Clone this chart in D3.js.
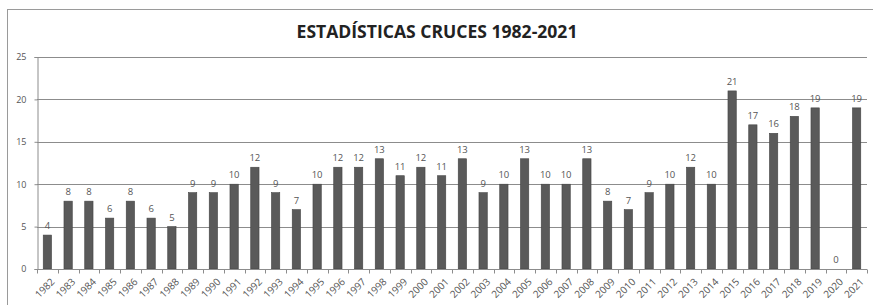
<!DOCTYPE html>
<html><head><meta charset="utf-8">
<script src="https://cdn.jsdelivr.net/npm/d3@7"></script>
<style>body{margin:0;background:#fff}svg{display:block}</style>
</head><body>
<script>
const years = ["1982","1983","1984","1985","1986","1987","1988","1989","1990","1991","1992","1993","1994","1995","1996","1997","1998","1999","2000","2001","2002","2003","2004","2005","2006","2007","2008","2009","2010","2011","2012","2013","2014","2015","2016","2017","2018","2019","2020","2021"];
const values = [4,8,8,6,8,6,5,9,9,10,12,9,7,10,12,12,13,11,12,11,13,9,10,13,10,10,13,8,7,9,10,12,10,21,17,16,18,19,0,19];
const yTicks = [0,5,10,15,20,25];
const title = "ESTADÍSTICAS CRUCES 1982-2021";

const W = 873, H = 305;
const svg = d3.select("body").append("svg").attr("width", W).attr("height", H);
const font = "'Open Sans', 'Liberation Sans', sans-serif";

svg.append("rect").attr("x", 7.5).attr("y", 9.5).attr("width", 900).attr("height", 400)
  .attr("fill", "none").attr("stroke", "#9a9a9a").attr("stroke-width", 1);

const pL = 37, pR = 867, pT = 57, pB = 269;
const x = d3.scaleBand().domain(years).range([pL, pR]).paddingInner(0.6).paddingOuter(0.3);
const y = d3.scaleLinear().domain([0, 25]).range([pB, pT]);

// gridlines
svg.append("g").selectAll("line").data(yTicks.filter(d => d > 0)).join("line")
  .attr("x1", pL).attr("x2", pR)
  .attr("y1", d => Math.round(y(d)) + 0.5).attr("y2", d => Math.round(y(d)) + 0.5)
  .attr("stroke", "#8c8c8c").attr("stroke-width", 1);

// y axis
const yAxis = svg.append("g").attr("transform", `translate(${pL + 0.5},0)`)
  .call(d3.axisLeft(y).tickValues(yTicks).tickSize(3).tickPadding(8));
yAxis.selectAll("path,line").attr("stroke", "#8c8c8c");
yAxis.selectAll("text").attr("font-family", font).attr("font-size", 9).attr("fill", "#555");

// bars
svg.append("g").selectAll("rect").data(values).join("rect")
  .attr("x", (d, i) => x(years[i]))
  .attr("y", d => y(d))
  .attr("width", x.bandwidth())
  .attr("height", d => y(0) - y(d))
  .attr("fill", "#5a5a5a").attr("stroke", "#444").attr("stroke-width", 0.6);

// x axis with ticks between categories
const xg = svg.append("g").attr("transform", `translate(0,${pB + 0.5})`);
xg.append("line").attr("x1", pL).attr("x2", pR).attr("stroke", "#8c8c8c");
const bounds = d3.range(years.length + 1).map(i => pL + i * (pR - pL) / years.length);
xg.selectAll("line.t").data(bounds).join("line").attr("class", "t")
  .attr("x1", d => Math.round(d) + 0.5).attr("x2", d => Math.round(d) + 0.5)
  .attr("y1", 0).attr("y2", 4).attr("stroke", "#8c8c8c");
xg.selectAll("text").data(years).join("text")
  .attr("transform", d => `translate(${x(d) + x.bandwidth() / 2 + 3},${8}) rotate(-45)`)
  .attr("text-anchor", "end").attr("dy", "0.7em")
  .attr("font-family", font).attr("font-size", 10).attr("fill", "#555")
  .text(d => d);

// value labels
svg.append("g").selectAll("text").data(values).join("text")
  .attr("x", (d, i) => x(years[i]) + x.bandwidth() / 2)
  .attr("y", d => y(d) - 6)
  .attr("text-anchor", "middle")
  .attr("font-family", font).attr("font-size", 9.5).attr("fill", "#555")
  .text(d => d);

// title
const t = svg.append("text").attr("x", 437).attr("y", 38).attr("text-anchor", "middle")
  .attr("font-family", font).attr("font-weight", "bold").attr("font-size", 16).attr("fill", "#222")
  .text(title);
const tw = t.node().getComputedTextLength();
t.attr("font-size", 16 * 281 / tw);
</script>
</body></html>
